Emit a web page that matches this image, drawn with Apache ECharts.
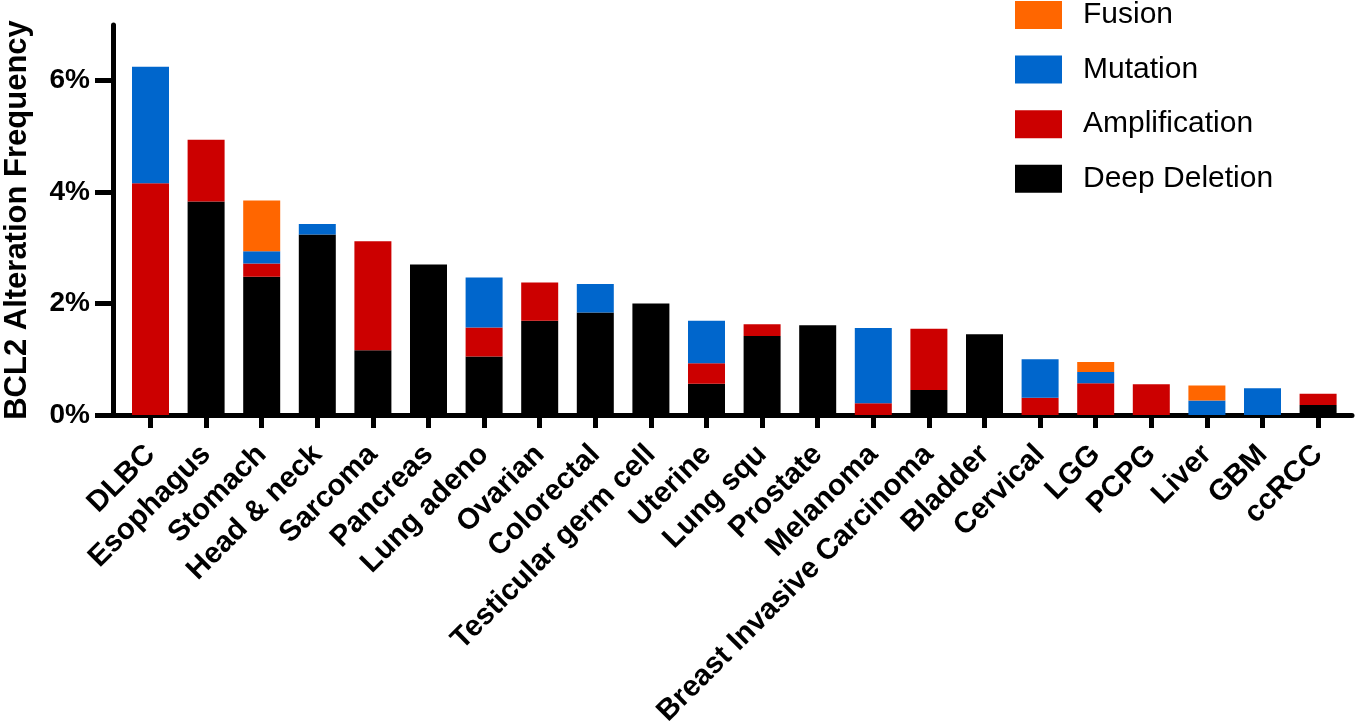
<!DOCTYPE html>
<html>
<head>
<meta charset="utf-8">
<script src="https://cdn.jsdelivr.net/npm/echarts@6/dist/echarts.min.js"></script>
<style>
html,body{margin:0;padding:0;background:#fff;}
#chart{width:1356px;height:724px;}
</style>
</head>
<body>
<div id="chart"></div>
<script>
var categories = ['DLBC','Esophagus','Stomach','Head & neck','Sarcoma','Pancreas','Lung adeno','Ovarian','Colorectal','Testicular germ cell','Uterine','Lung squ','Prostate','Melanoma','Breast Invasive Carcinoma','Bladder','Cervical','LGG','PCPG','Liver','GBM','ccRCC'];
var deepDeletion  = [0, 3.83, 2.48, 3.24, 1.16, 2.70, 1.05, 1.69, 1.84, 2.00, 0.56, 1.42, 1.61, 0, 0.45, 1.45, 0, 0, 0, 0, 0, 0.18];
var amplification = [4.16, 1.11, 0.24, 0, 1.96, 0, 0.52, 0.69, 0, 0, 0.37, 0.21, 0, 0.21, 1.10, 0, 0.31, 0.57, 0.55, 0, 0, 0.20];
var mutation      = [2.09, 0, 0.22, 0.19, 0, 0, 0.90, 0, 0.51, 0, 0.76, 0, 0, 1.35, 0, 0, 0.69, 0.20, 0, 0.26, 0.48, 0];
var fusion        = [0, 0, 0.91, 0, 0, 0, 0, 0, 0, 0, 0, 0, 0, 0, 0, 0, 0, 0.18, 0, 0.27, 0, 0];
var yTicks = [0, 2, 4, 6];
var legendOrder = ['Fusion', 'Mutation', 'Amplification', 'Deep Deletion'];

var FONT = "'Liberation Sans', Arial, Helvetica, sans-serif";

var chart = echarts.init(document.getElementById('chart'), null, {renderer: 'canvas'});
var seriesDefs = [
  {name: 'Deep Deletion', data: deepDeletion, color: '#000000'},
  {name: 'Amplification', data: amplification, color: '#CC0000'},
  {name: 'Mutation', data: mutation, color: '#0066CC'},
  {name: 'Fusion', data: fusion, color: '#FF6600'}
];
chart.setOption({
  animation: false,
  textStyle: {fontFamily: FONT},
  grid: [
    // bars
    {left: 122.7, right: 10.1, top: 25, bottom: 309, containLabel: false, outerBoundsMode: 'none'},
    // axis frame
    {left: 113, right: 4, top: 25, bottom: 309, containLabel: false, outerBoundsMode: 'none'}
  ],
  legend: {
    data: legendOrder,
    orient: 'vertical',
    left: 1015,
    top: 0,
    padding: 0,
    icon: 'rect',
    itemWidth: 47,
    itemHeight: 28,
    itemGap: 24.6,
    textStyle: {fontSize: 30, color: '#000', fontFamily: FONT, padding: [0, 0, 0, 16], lineHeight: 30}
  },
  xAxis: [
    {
      gridIndex: 0,
      type: 'category',
      data: categories,
      axisLine: {show: false},
      axisTick: {show: true, alignWithLabel: true, length: 13, lineStyle: {color: '#000', width: 5}},
      axisLabel: {
        interval: 0,
        rotate: 45,
        margin: 35,
        fontSize: 29.5,
        fontWeight: 'bold',
        color: '#000',
        fontFamily: FONT
      },
      splitLine: {show: false}
    },
    {
      gridIndex: 1,
      type: 'value',
      min: 0,
      max: 1,
      axisLine: {show: true, onZero: false, lineStyle: {color: '#000', width: 5}},
      axisTick: {show: false},
      axisLabel: {show: false},
      splitLine: {show: false}
    }
  ],
  yAxis: [
    {
      gridIndex: 0,
      type: 'value',
      min: 0,
      max: 7,
      axisLine: {show: false},
      axisTick: {show: false},
      axisLabel: {show: false},
      splitLine: {show: false}
    },
    {
      gridIndex: 1,
      type: 'value',
      min: 0,
      max: 7,
      name: 'BCL2 Alteration Frequency',
      nameLocation: 'middle',
      nameGap: 80,
      nameTextStyle: {fontSize: 31, fontWeight: 'bold', color: '#000', fontFamily: FONT},
      splitLine: {show: false},
      axisLine: {show: true, onZero: false, lineStyle: {color: '#000', width: 5}},
      axisTick: {show: true, customValues: yTicks, length: 18, lineStyle: {color: '#000', width: 5}},
      axisLabel: {
        customValues: yTicks,
        margin: 23,
        fontSize: 28,
        fontWeight: 'bold',
        color: '#000',
        fontFamily: FONT,
        formatter: '{value}%'
      }
    }
  ],
  series: seriesDefs.map(function (s) {
    return {
      name: s.name,
      type: 'bar',
      stack: 'total',
      xAxisIndex: 0,
      yAxisIndex: 0,
      barWidth: 37,
      itemStyle: {color: s.color},
      emphasis: {disabled: true},
      data: s.data
    };
  })
});
</script>
</body>
</html>
